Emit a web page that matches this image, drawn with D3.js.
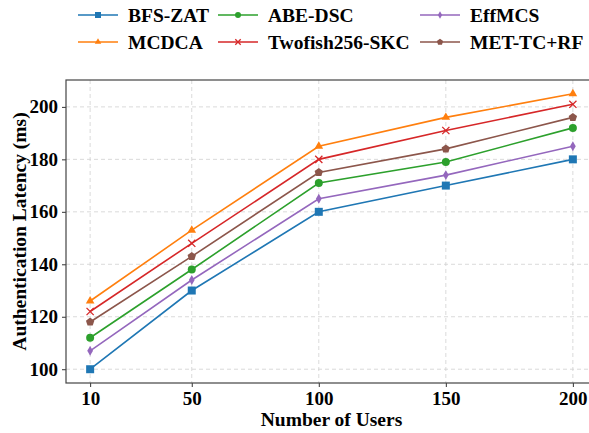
<!DOCTYPE html>
<html>
<head>
<meta charset="utf-8">
<script src="https://cdn.jsdelivr.net/npm/d3@7"></script>
<style>
  body { margin: 0; background: #fff; }
  svg { display: block; }
</style>
</head>
<body>
<div id="chart"></div>
<script>
// Data
const users = [10, 50, 100, 150, 200];
const seriesNames = ["BFS-ZAT", "ABE-DSC", "EffMCS", "MCDCA", "Twofish256-SKC", "MET-TC+RF"];
const bfsZat = [100, 130, 160, 170, 180];
const abeDsc = [112, 138, 171, 179, 192];
const effMcs = [107, 134, 165, 174, 185];
const mcdca = [126, 153, 185, 196, 205];
const twofish = [122, 148, 180, 191, 201];
const metTcRf = [118, 143, 175, 184, 196];
const yTicks = [100, 120, 140, 160, 180, 200];

const seriesValues = [bfsZat, abeDsc, effMcs, mcdca, twofish, metTcRf];
const colors = ["#1f77b4", "#2ca02c", "#9467bd", "#ff7f0e", "#d62728", "#8c564b"];
const markers = ["square", "circle", "diamond", "triangle", "x", "pentagon"];

const serif = "Liberation Serif";

// Canvas and plot box (right side of the axes runs past the image edge)
const W = 589, H = 433;
const plot = { left: 66, right: 597, top: 80, bottom: 383 };

const svg = d3.select("#chart").append("svg")
    .attr("width", W)
    .attr("height", H)
    .style("font-family", serif)
    .style("font-weight", "bold");

// Scales with matplotlib-like 5% margins
const xPad = (d3.max(users) - d3.min(users)) * 0.05;
const xScale = d3.scaleLinear()
    .domain([d3.min(users) - xPad, d3.max(users) + xPad])
    .range([plot.left, plot.right]);

const allVals = seriesValues.flat();
const yPad = (d3.max(allVals) - d3.min(allVals)) * 0.05;
const yScale = d3.scaleLinear()
    .domain([d3.min(allVals) - yPad, d3.max(allVals) + yPad])
    .range([plot.bottom, plot.top]);

// Grid lines
const grid = svg.append("g");
grid.selectAll(".vgrid").data(users).enter().append("line")
    .attr("x1", d => xScale(d)).attr("x2", d => xScale(d))
    .attr("y1", plot.top).attr("y2", plot.bottom)
    .attr("stroke", "#d0d0d0").attr("stroke-width", 0.8)
    .attr("stroke-dasharray", "4,3");
grid.selectAll(".hgrid").data(yTicks).enter().append("line")
    .attr("x1", plot.left).attr("x2", plot.right)
    .attr("y1", d => yScale(d)).attr("y2", d => yScale(d))
    .attr("stroke", "#d0d0d0").attr("stroke-width", 0.8)
    .attr("stroke-dasharray", "4,3");

// Axes
const xAxis = svg.append("g")
    .attr("transform", `translate(0,${plot.bottom})`)
    .call(d3.axisBottom(xScale).tickValues(users).tickSize(4).tickPadding(5));
const yAxis = svg.append("g")
    .attr("transform", `translate(${plot.left},0)`)
    .call(d3.axisLeft(yScale).tickValues(yTicks).tickSize(4).tickPadding(4));

[xAxis, yAxis].forEach(ax => {
    ax.attr("font-family", serif).attr("font-size", 19).attr("font-weight", "bold");
    ax.select(".domain").remove();
    ax.selectAll(".tick line").attr("stroke", "#333").attr("stroke-width", 1);
    ax.selectAll(".tick text")
        .attr("fill", "#000")
        .attr("font-family", serif)
        .style("font-family", serif)
        .style("font-weight", "bold")
        .style("font-size", "19px");
});

// Frame
svg.append("rect")
    .attr("x", plot.left).attr("y", plot.top)
    .attr("width", plot.right - plot.left)
    .attr("height", plot.bottom - plot.top)
    .attr("fill", "none")
    .attr("stroke", "#444")
    .attr("stroke-width", 1.2);

// Axis titles
svg.append("text")
    .attr("x", (plot.left + plot.right) / 2)
    .attr("y", 426)
    .attr("text-anchor", "middle")
    .attr("font-family", serif)
    .style("font-family", serif)
    .style("font-weight", "bold")
    .style("font-size", "19.5px")
    .text("Number of Users");

svg.append("text")
    .attr("transform", `translate(26,${(plot.top + plot.bottom) / 2}) rotate(-90)`)
    .attr("text-anchor", "middle")
    .attr("font-family", serif)
    .style("font-family", serif)
    .style("font-weight", "bold")
    .style("font-size", "19.5px")
    .text("Authentication Latency (ms)");

// Marker drawing helper
function drawMarker(g, type, color, s) {
    if (type === "square") {
        g.append("rect").attr("x", -s / 2).attr("y", -s / 2)
            .attr("width", s).attr("height", s).attr("fill", color);
    } else if (type === "circle") {
        g.append("circle").attr("r", s / 2).attr("fill", color);
    } else if (type === "diamond") {
        const w = s * 0.36, h = s * 0.62;
        g.append("path").attr("d", `M0,${-h}L${w},0L0,${h}L${-w},0Z`).attr("fill", color);
    } else if (type === "triangle") {
        const r = s * 0.62;
        g.append("path")
            .attr("d", `M0,${-r}L${r * 0.87},${r * 0.5}L${-r * 0.87},${r * 0.5}Z`)
            .attr("fill", color);
    } else if (type === "x") {
        const r = s * 0.45;
        g.append("path")
            .attr("d", `M${-r},${-r}L${r},${r}M${-r},${r}L${r},${-r}`)
            .attr("stroke", color).attr("stroke-width", 1.3).attr("fill", "none");
    } else if (type === "pentagon") {
        const r = s * 0.55;
        const pts = d3.range(5).map(i => {
            const a = -Math.PI / 2 + i * 2 * Math.PI / 5;
            return [r * Math.cos(a), r * Math.sin(a)];
        });
        g.append("path").attr("d", "M" + pts.join("L") + "Z").attr("fill", color);
    }
}

// Lines and markers
const line = d3.line()
    .x((d, i) => xScale(users[i]))
    .y(d => yScale(d));

seriesValues.forEach((vals, k) => {
    svg.append("path")
        .datum(vals)
        .attr("d", line)
        .attr("fill", "none")
        .attr("stroke", colors[k])
        .attr("stroke-width", 1.6);

    vals.forEach((v, i) => {
        const g = svg.append("g")
            .attr("transform", `translate(${xScale(users[i])},${yScale(v)})`);
        drawMarker(g, markers[k], colors[k], 8);
    });
});

// Legend: 3 columns x 2 rows
const legendCols = [78, 218, 420];
const legendRows = [15, 42];
seriesNames.forEach((name, k) => {
    const col = k % 3, row = Math.floor(k / 3);
    const g = svg.append("g")
        .attr("transform", `translate(${legendCols[col]},${legendRows[row]})`);
    g.append("line")
        .attr("x1", 0).attr("x2", 40)
        .attr("stroke", colors[k]).attr("stroke-width", 1.6);
    const m = g.append("g").attr("transform", "translate(20,0)");
    drawMarker(m, markers[k], colors[k], 6);
    g.append("text")
        .attr("x", 50)
        .attr("dy", "0.35em")
        .attr("font-family", serif)
        .style("font-family", serif)
        .style("font-weight", "bold")
        .style("font-size", "19.5px")
        .text(name);
});
</script>
</body>
</html>
